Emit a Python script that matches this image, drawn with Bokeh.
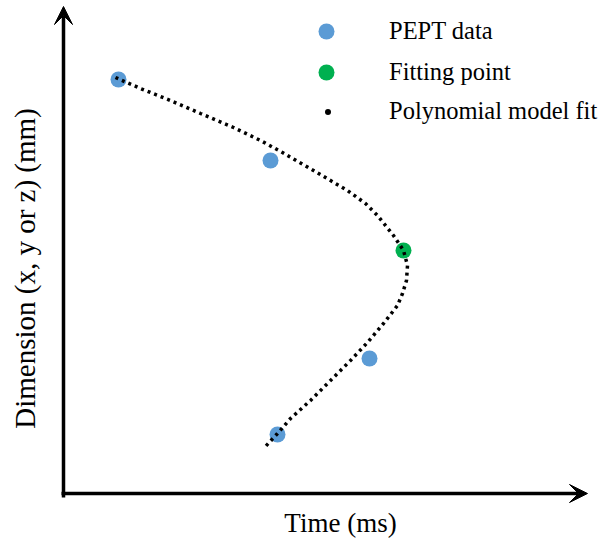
import math
from bokeh.plotting import figure
from bokeh.models import Range1d, Arrow, VeeHead, Label, Legend, LegendItem
from bokeh.embed import file_html
from bokeh.resources import INLINE

# ---- data (arbitrary units; origin at the axes corner) ----
pept_time = [55, 207, 306, 214]
pept_dim = [414, 333, 135, 59]

fit_time = [340]
fit_dim = [243]

poly_time = [52, 77, 107, 137, 170, 197, 219, 250, 284, 302, 314, 330, 340, 344,
             343, 339, 334, 320, 304, 287, 267, 247, 227, 214, 201]
poly_dim = [416, 405, 393, 380, 366, 353, 341, 323, 303, 290, 278, 258, 243, 228,
            213, 200, 188, 170, 151, 133, 113, 93, 75, 60, 46]

x_label = "Time (ms)"
y_label = "Dimension (x, y or z) (mm)"
legend_labels = ["PEPT data", "Fitting point", "Polynomial model fit"]

BLUE = "#5B9BD5"
GREEN = "#00B050"
FONT = "Liberation Serif"

p = figure(width=608, height=542, output_backend="svg", toolbar_location=None,
           x_range=Range1d(-63, 545), y_range=Range1d(-49, 493),
           x_axis_location=None, y_axis_location=None,
           min_border=0, min_border_left=0, min_border_right=0,
           min_border_top=0, min_border_bottom=0)
p.grid.visible = False
p.outline_line_color = None
p.background_fill_color = "white"

# axes drawn as arrows
p.add_layout(Arrow(x_start=0, y_start=-4, x_end=0, y_end=487,
                   line_width=3.5, line_color="black",
                   end=VeeHead(size=18, fill_color="black", line_color="black", line_width=1)))
p.add_layout(Arrow(x_start=-2, y_start=0, x_end=524, y_end=0,
                   line_width=3.5, line_color="black",
                   end=VeeHead(size=18, fill_color="black", line_color="black", line_width=1)))

pept = p.scatter(pept_time, pept_dim, size=16, fill_color=BLUE, line_color=None)
fit = p.scatter(fit_time, fit_dim, size=16, fill_color=GREEN, line_color=None)

# polynomial fit (dotted)
poly = p.line(poly_time, poly_dim, line_color="black", line_width=3.5,
              line_dash="3 4", line_cap="butt")
# zero-size marker renderer used only for the legend's dot symbol
dot = p.scatter(poly_time[:1], poly_dim[:1], size=0, fill_color="black", line_color=None)

# axis labels
p.add_layout(Label(x=277, y=-29, text=x_label, text_font=FONT, text_font_size="27px",
                   text_align="center", text_baseline="middle", text_color="black"))
p.add_layout(Label(x=-39, y=225, text=y_label, text_font=FONT, text_font_size="29px",
                   text_align="center", text_baseline="middle", angle=math.pi / 2,
                   text_color="black"))

# legends
leg1 = Legend(items=[LegendItem(label=legend_labels[0], renderers=[pept]),
                     LegendItem(label=legend_labels[1], renderers=[fit])],
              location=(306, 450), glyph_width=40, glyph_height=40,
              label_standoff=43, spacing=1, padding=0, margin=0,
              border_line_color=None, background_fill_alpha=0,
              label_text_font=FONT, label_text_font_size="24.5px", label_text_color="black")
leg2 = Legend(items=[LegendItem(label=legend_labels[2], renderers=[dot])],
              location=(320, 417), glyph_width=15, glyph_height=15,
              label_standoff=54, spacing=0, padding=0, margin=0,
              border_line_color=None, background_fill_alpha=0,
              label_text_font=FONT, label_text_font_size="24.5px", label_text_color="black")
p.add_layout(leg1, "center")
p.add_layout(leg2, "center")

open("out.html", "w").write(file_html(p, INLINE))
